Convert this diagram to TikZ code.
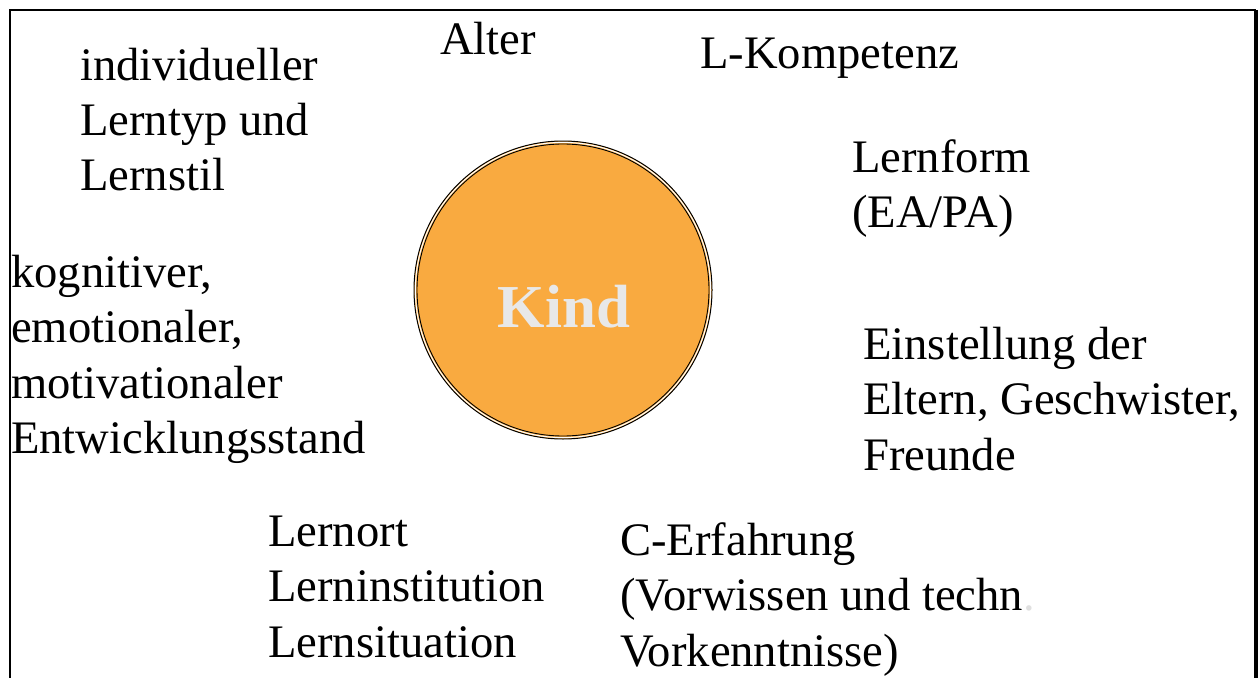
\documentclass[tikz,border=0pt]{standalone}
\usepackage{fontspec}
\setmainfont{Liberation Serif}
\definecolor{kindorange}{HTML}{F9AA40}
\definecolor{kindtext}{HTML}{E8E8E8}
\definecolor{dotgray}{HTML}{E0E0E0}
\newcommand{\mylines}[1]{\vtop{\halign{##\hfil\cr#1\crcr}}}
\begin{document}
\begin{tikzpicture}[x=1pt,y=-1pt,
  lbl/.style={inner sep=0pt,anchor=base west,font=\fontsize{46.6}{55.5}\selectfont},
  frame/.style={line width=2.5pt,black}]
\useasboundingbox (0,0) rectangle (1260,677);
\coordinate (fbl) at (10,680);
\coordinate (ftl) at (10,10);
\coordinate (ftr) at (1256,10);
\coordinate (fbr) at (1256,680);
\draw[frame] (fbl) -- (ftl) -- (ftr);
\draw[line width=3.2pt] (ftr) -- (fbr);
% circle
\node[circle,minimum size=298pt,inner sep=0pt,fill=kindorange,draw=black,line width=1pt] (outer) at (563,290) {};
\node[circle,minimum size=292pt,inner sep=0pt,draw=black,line width=0.9pt] (kind) at (563,290) {};
\draw[white,line width=1pt] (563,290) circle[radius=147.6];
\node[inner sep=0pt,anchor=base,font=\fontsize{61}{61}\selectfont\bfseries,text=kindtext] (kindtxt) at (564,327) {Kind};
% texts
\node[lbl] (indiv) at (80,80) {\mylines{individueller\cr Lerntyp und\cr Lernstil}};
\node[lbl] (alter) at (440,55) {Alter};
\node[lbl] (lkomp) at (700,68) {L-Kompetenz};
\node[lbl] (lform) at (852,172) {\mylines{Lernform\cr (EA/PA)}};
\node[lbl] (kogn) at (11,287) {\mylines{kognitiver,\cr emotionaler,\cr motivationaler\cr Entwicklungsstand}};
\node[lbl] (einst) at (863,359) {\mylines{Einstellung der\cr Eltern, Geschwister,\cr Freunde}};
\node[lbl] (lort) at (268,546) {\mylines{Lernort\cr Lerninstitution\cr Lernsituation}};
\node[lbl] (cerf) at (620,555) {\mylines{C-Erfahrung\cr (Vorwissen und techn{\color{dotgray}.}\cr Vorkenntnisse)}};
\end{tikzpicture}
\end{document}
